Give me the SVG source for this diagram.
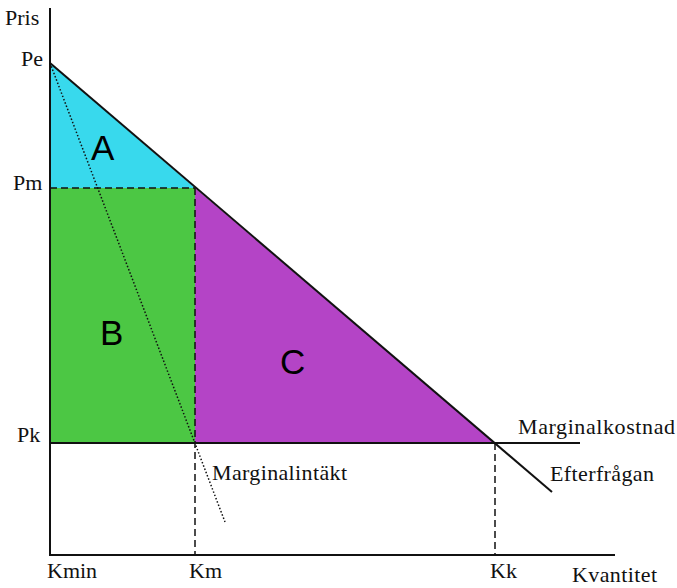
<svg xmlns="http://www.w3.org/2000/svg" width="677" height="588" viewBox="0 0 677 588">
<style>
.t{font-family:"Liberation Serif","Times New Roman",serif;font-size:22px;fill:#111}
.big{font-family:"Liberation Sans",Arial,sans-serif;font-size:35px;fill:#000}
.ln{stroke:#111;stroke-width:2;fill:none}
.ds{stroke:#111;stroke-width:1.5;stroke-dasharray:7,4;fill:none}
.dt{stroke:#111;stroke-width:1.5;stroke-dasharray:1.5,2;fill:none}
</style>
<rect width="677" height="588" fill="#fff"/>
<g id="areas">
<polygon id="A" points="50,63 195,188 50,188" fill="#38d9ed"/>
<rect id="B" x="50" y="188" width="145" height="255" fill="#4cc744"/>
<polygon id="C" points="195,188 495,443 195,443" fill="#b444c6"/>
</g>
<g id="connectors">
<line class="ln" x1="50" y1="8" x2="50" y2="556" stroke="#333"/>
<line class="ln" x1="49" y1="555" x2="615" y2="555" stroke="#333"/>
<line class="ln" x1="50" y1="443" x2="580" y2="443"/>
<line class="ln" x1="50" y1="63" x2="552" y2="492"/>
<line class="dt" x1="50" y1="63" x2="225" y2="522"/>
<line class="ds" x1="50" y1="188" x2="195" y2="188"/>
<line class="ds" x1="195" y1="188" x2="195" y2="555"/>
<line class="ds" x1="495" y1="443" x2="495" y2="555"/>
</g>
<g id="labels">
<text class="big" x="91" y="160">A</text>
<text class="big" x="100" y="345">B</text>
<text class="big" x="280" y="374">C</text>
<text class="t" x="5" y="25">Pris</text>
<text class="t" x="21" y="66">Pe</text>
<text class="t" x="13" y="190">Pm</text>
<text class="t" x="17" y="442">Pk</text>
<text class="t" x="47" y="578">Kmin</text>
<text class="t" x="189" y="578">Km</text>
<text class="t" x="490" y="578">Kk</text>
<text class="t" x="572" y="582" textLength="85">Kvantitet</text>
<text class="t" x="518" y="434" textLength="157">Marginalkostnad</text>
<text class="t" x="550" y="481" textLength="104">Efterfrågan</text>
<text class="t" x="212" y="480" textLength="135">Marginalintäkt</text>
</g>
</svg>
